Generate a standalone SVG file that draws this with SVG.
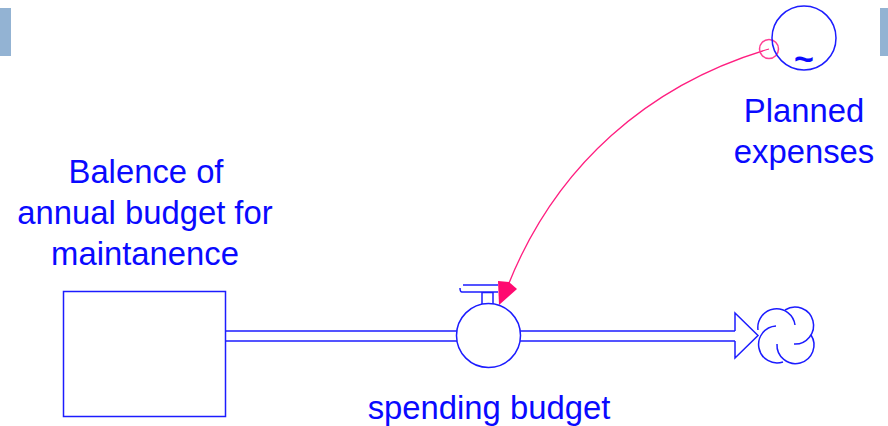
<svg xmlns="http://www.w3.org/2000/svg" width="888" height="426" viewBox="0 0 888 426">
<style>
.s{fill:none;stroke:#1c1cff;stroke-width:1.5}
.w{fill:#fff;stroke:#1c1cff;stroke-width:1.5}
.t{font-family:"Liberation Sans",Arial,sans-serif;font-size:32.8px;fill:#0a0aff;text-anchor:middle}
.b{fill:#93b3d3}
</style>
<rect width="888" height="426" fill="#fff"/>
<rect class="b" x="0" y="8" width="11" height="48"/>
<rect class="b" x="880" y="8" width="8" height="48"/>
<g id="connectors">
<path id="pipe-in" class="s" d="M225.500 331H457M225.500 341H457"/>
<path id="pipe-out" class="s" d="M520 331H735M520 341H735"/>
<path id="pipe-arrow" class="s" d="M735 331V313L758 335.500L735 358V341"/>
<path id="link" d="M769 49C650 84 555 165 507 288" fill="none" stroke="#ff1f80" stroke-width="1.300"/>
<circle cx="769" cy="49" r="9.500" fill="none" stroke="#ff3f95" stroke-width="1.500"/>
<polygon points="498,281 509,282 517,289 499,305" fill="#ff0a70"/>
</g>
<g id="stock">
<rect class="s" x="63.500" y="291.500" width="162" height="125"/>
<text class="t" x="146" y="183">Balence of</text>
<text class="t" x="145" y="224">annual budget for</text>
<text class="t" x="145" y="265">maintanence</text>
</g>
<g id="valve">
<circle class="w" cx="488.500" cy="335.500" r="32"/>
<path class="s" d="M482 304V292.500H493V304M498 285H463M498 292H462Q460 292 460 288"/>
<text class="t" x="489" y="419">spending budget</text>
</g>
<g id="sink">
<path class="s" d="M758 330A18.500 18.500 0 1 1 795 325"/>
<path class="s" d="M785 310A18.500 18.500 0 1 1 794 344"/>
<path class="s" d="M811 335A18.500 18.500 0 1 1 777 344"/>
<path class="s" d="M783 362A18.500 18.500 0 1 1 776 326"/>
</g>
<g id="planned">
<circle class="s" cx="804" cy="38" r="32"/>
<text x="804" y="70" font-family="'Liberation Sans',Arial,sans-serif" font-size="34px" font-weight="bold" fill="#0a0aff" text-anchor="middle">~</text>
<text class="t" x="804" y="121.500">Planned</text>
<text class="t" x="804" y="162.500">expenses</text>
</g>
</svg>
